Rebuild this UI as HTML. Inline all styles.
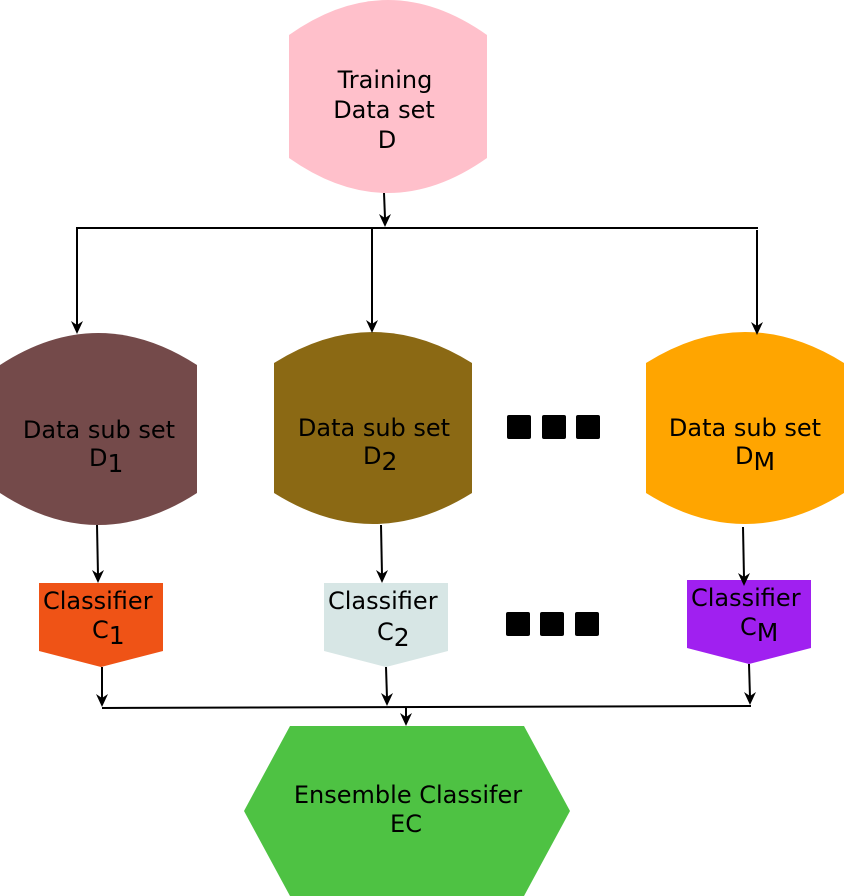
<!DOCTYPE html>
<html><head><style>body{margin:0;background:#fff}svg{display:block}text{font-family:"DejaVu Sans","Liberation Sans",sans-serif;font-size:24px;fill:#000}</style></head>
<body>
<svg width="858" height="896" viewBox="0 0 858 896" xmlns="http://www.w3.org/2000/svg">
<path d="M289,35 Q388,-35 487,35 L487,158 Q388,228 289,158 Z" fill="#ffc0cb"/>
<text x="385" y="88" text-anchor="middle">Training</text>
<text x="384" y="118" text-anchor="middle">Data set</text>
<text x="387" y="148" text-anchor="middle">D</text>
<path d="M0,365 Q98,301 197,365 L197,493 Q98,557 0,493 Z" fill="#744a4a"/>
<path d="M274,363 Q373,301 472,363 L472,493 Q373,555 274,493 Z" fill="#8b6914"/>
<path d="M646,363 Q745,301 844,363 L844,493 Q745,555 646,493 Z" fill="#ffa500"/>
<text x="99" y="438" text-anchor="middle">Data sub set</text>
<text x="89" y="466">D<tspan font-size="25" dy="6">1</tspan></text>
<text x="374" y="436" text-anchor="middle">Data sub set</text>
<text x="363" y="464">D<tspan font-size="25" dy="6">2</tspan></text>
<text x="745" y="436" text-anchor="middle">Data sub set</text>
<text x="735" y="464">D<tspan font-size="25" dy="6">M</tspan></text>
<g fill="#000"><rect x="507" y="415" width="24" height="24" rx="2"/><rect x="542" y="415" width="24" height="24" rx="2"/><rect x="576" y="415" width="24" height="24" rx="2"/>
<rect x="506" y="612" width="24" height="24" rx="2"/><rect x="540" y="612" width="24" height="24" rx="2"/><rect x="575" y="612" width="24" height="24" rx="2"/></g>
<path d="M39,583 H163 V651 L101,667 L39,651 Z" fill="#ef5316"/>
<path d="M324,583 H448 V651 L386,667 L324,651 Z" fill="#d7e6e5"/>
<path d="M687,580 H811 V648 L749,664 L687,648 Z" fill="#a020f0"/>
<text x="43" y="609">Classifier</text><text x="92" y="638">C<tspan font-size="25" dy="6">1</tspan></text>
<text x="328" y="609">Classifier</text><text x="377" y="640">C<tspan font-size="25" dy="6">2</tspan></text>
<text x="691" y="606">Classifier</text><text x="740" y="635">C<tspan font-size="25" dy="6">M</tspan></text>
<path d="M290,726 H524 L570,811 L524,896 H290 L244,811 Z" fill="#4ec243"/>
<text x="408" y="803" text-anchor="middle">Ensemble Classifer</text>
<text x="406" y="832" text-anchor="middle">EC</text>
<g stroke="#000" stroke-width="2" fill="none">
<line x1="76" y1="228" x2="758" y2="228"/>
<line x1="384" y1="193" x2="385" y2="218"/>
<line x1="77" y1="228" x2="77" y2="326"/>
<line x1="372" y1="228" x2="372" y2="325"/>
<line x1="757" y1="230" x2="757" y2="327"/>
<line x1="97" y1="525" x2="98" y2="575"/>
<line x1="381" y1="525" x2="382" y2="575"/>
<line x1="743" y1="527" x2="744" y2="578"/>
<line x1="102" y1="667" x2="102" y2="699"/>
<line x1="386" y1="667" x2="387" y2="698"/>
<line x1="749" y1="664" x2="750" y2="697"/>
<line x1="102" y1="708" x2="751" y2="706"/>
<line x1="406" y1="707" x2="406" y2="718"/>
</g>
<g fill="#000">
<path d="M379,214 L385,227 L391,214 L385,218 Z"/>
<path d="M71,321 L77,334 L83,321 L77,325 Z"/>
<path d="M366,320 L372,333 L378,320 L372,324 Z"/>
<path d="M751,322 L757,335 L763,322 L757,326 Z"/>
<path d="M92,570 L98,583 L104,570 L98,574 Z"/>
<path d="M376,570 L382,583 L388,570 L382,574 Z"/>
<path d="M738,573 L744,586 L750,573 L744,577 Z"/>
<path d="M96,694 L102,707 L108,694 L102,698 Z"/>
<path d="M381,693 L387,706 L393,693 L387,697 Z"/>
<path d="M744,692 L750,705 L756,692 L750,696 Z"/>
<path d="M400,713 L406,726 L412,713 L406,717 Z"/>
</g>
</svg>
</body></html>
